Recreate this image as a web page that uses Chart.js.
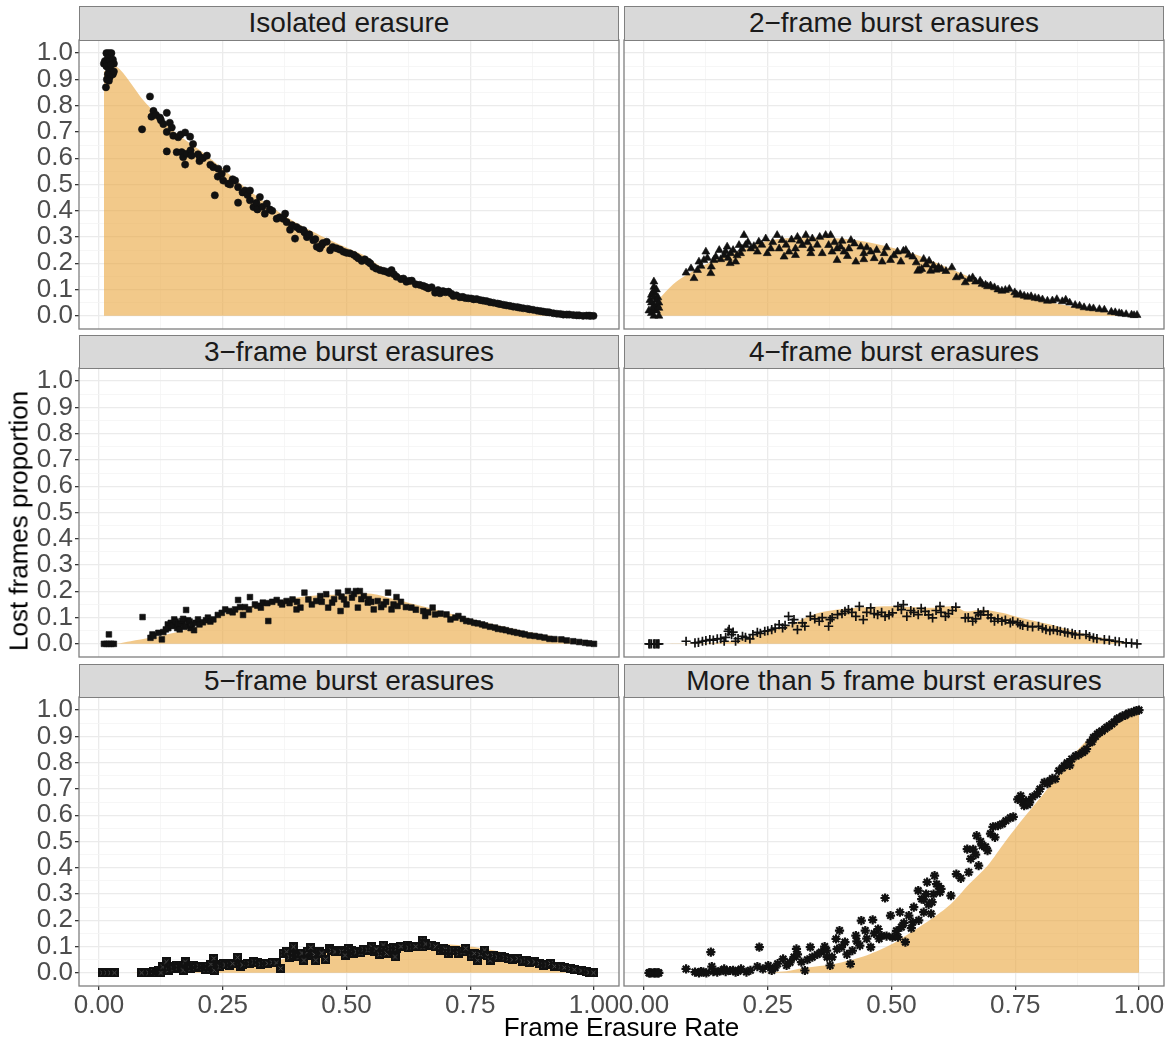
<!DOCTYPE html>
<html>
<head>
<meta charset="utf-8">
<script src="https://cdn.jsdelivr.net/npm/chart.js@4.4.0/dist/chart.umd.min.js"></script>
<style>
  body { margin: 0; background: #fff; font-family: "Liberation Sans", Arial, sans-serif; }
  #wrap { position: relative; width: 1173px; height: 1043px; overflow: hidden; }
  #wrap canvas { position: absolute; left: 0; top: 0; }
  .strip {
    position: absolute; box-sizing: border-box; background: #d9d9d9;
    border: 1.3px solid #7f7f7f; color: #1a1a1a; font-size: 28px;
    text-align: center; z-index: 2; white-space: nowrap;
  }
  .axis-title { position: absolute; color: #000; font-size: 26px; white-space: nowrap; z-index: 2; }
</style>
</head>
<body>
<div id="wrap"></div>
<script>
// ---- data ----
const panelTitles = [
  "Isolated erasure",
  "2\u2212frame burst erasures",
  "3\u2212frame burst erasures",
  "4\u2212frame burst erasures",
  "5\u2212frame burst erasures",
  "More than 5 frame burst erasures"
];

const xBreaks = [0, 0.25, 0.5, 0.75, 1];
const xTickLabels = ["0.00", "0.25", "0.50", "0.75", "1.00"];
const xMinor = [0.125, 0.375, 0.625, 0.875];
const yBreaks = [0, 0.1, 0.2, 0.3, 0.4, 0.5, 0.6, 0.7, 0.8, 0.9, 1.0];
const yTickLabels = ["0.0", "0.1", "0.2", "0.3", "0.4", "0.5", "0.6", "0.7", "0.8", "0.9", "1.0"];
const yMinor = [0.05, 0.15, 0.25, 0.35, 0.45, 0.55, 0.65, 0.75, 0.85, 0.95];

// observed points [x, y]
const isolatedPts = [
  [0.015,1.0],[0.02,1.0],[0.025,1.0],[0.01,0.96],[0.012,0.97],[0.018,0.98],[0.022,0.97],[0.028,0.975],
  [0.03,0.96],[0.015,0.95],[0.02,0.94],[0.025,0.93],[0.018,0.92],[0.022,0.91],[0.028,0.92],[0.016,0.9],
  [0.02,0.895],[0.014,0.87],[0.024,0.955],[0.03,0.93],
  [0.087,0.71],[0.103,0.835],[0.106,0.758],[0.11,0.78],[0.115,0.765],[0.123,0.755],[0.125,0.745],[0.13,0.73],
  [0.137,0.773],[0.137,0.70],[0.137,0.626],[0.143,0.735],[0.147,0.717],[0.15,0.686],[0.157,0.623],[0.16,0.68],
  [0.165,0.69],[0.167,0.623],[0.17,0.604],[0.174,0.698],[0.174,0.576],[0.177,0.617],[0.184,0.682],[0.185,0.63],
  [0.187,0.61],[0.19,0.654],[0.2,0.615],[0.203,0.589],[0.204,0.604],[0.21,0.6],[0.218,0.61],[0.225,0.575],
  [0.231,0.566],[0.234,0.459],[0.24,0.53],[0.241,0.56],[0.248,0.541],[0.251,0.515],[0.258,0.56],[0.261,0.503],
  [0.265,0.5],[0.27,0.52],[0.275,0.515],[0.281,0.49],[0.281,0.431],[0.29,0.47],[0.295,0.477],[0.3,0.46],
  [0.305,0.477],[0.305,0.44],[0.312,0.414],[0.318,0.43],[0.32,0.405],[0.325,0.452],[0.33,0.415],[0.335,0.389],
  [0.339,0.427],[0.345,0.405],[0.35,0.4],[0.359,0.37],[0.365,0.375],[0.372,0.37],[0.376,0.389],[0.379,0.357],
  [0.386,0.328],[0.39,0.345],[0.396,0.294],[0.399,0.338],[0.405,0.33],[0.413,0.326],[0.415,0.318],[0.42,0.30],
  [0.425,0.31],[0.433,0.288],[0.437,0.292],[0.44,0.263],[0.446,0.257],[0.45,0.27],[0.452,0.277],[0.46,0.282],
  [0.467,0.25],[0.472,0.262],[0.48,0.257],[0.487,0.252],[0.494,0.244],[0.5,0.24],[0.507,0.238],[0.515,0.232],
  [0.52,0.225],[0.524,0.219],[0.531,0.209],[0.537,0.215],[0.544,0.206],[0.548,0.2],[0.554,0.187],[0.56,0.18],
  [0.568,0.174],[0.575,0.171],[0.581,0.168],[0.586,0.163],[0.591,0.174],[0.596,0.158],[0.601,0.149],[0.61,0.14],
  [0.615,0.142],[0.621,0.13],[0.626,0.133],[0.632,0.134],[0.64,0.12],[0.648,0.118],[0.655,0.114],[0.66,0.11],
  [0.665,0.105],[0.672,0.109],[0.679,0.088],[0.685,0.098],[0.689,0.086],[0.695,0.094],[0.7,0.09],[0.706,0.092],
  [0.712,0.084],[0.716,0.076],[0.722,0.078],[0.729,0.071],[0.735,0.072],[0.74,0.068],[0.746,0.067],[0.752,0.066],
  [0.757,0.063],[0.763,0.064],[0.77,0.06],[0.776,0.058],[0.783,0.056],[0.79,0.052],[0.797,0.05],[0.805,0.047],
  [0.81,0.045],[0.817,0.042],[0.823,0.04],[0.83,0.038],[0.837,0.035],[0.845,0.033],[0.85,0.031],[0.857,0.029],
  [0.865,0.027],[0.87,0.025],[0.877,0.023],[0.885,0.02],[0.892,0.018],[0.898,0.016],[0.905,0.014],[0.91,0.013],
  [0.918,0.01],[0.925,0.008],[0.932,0.007],[0.938,0.005],[0.945,0.005],[0.95,0.005],[0.958,0.003],[0.965,0.002],
  [0.97,0.002],[0.978,0.0],[0.985,0.001],[0.99,0.001],[0.993,0.0],[0.999,0.0]
];
const twoFramePts = [
  [0.02,0.13],[0.02,0.11],[0.025,0.1],[0.018,0.09],[0.022,0.085],[0.015,0.08],[0.02,0.07],[0.028,0.07],
  [0.025,0.06],[0.012,0.06],[0.015,0.05],[0.02,0.04],[0.027,0.04],[0.03,0.05],[0.02,0.03],[0.017,0.025],
  [0.025,0.02],[0.015,0.01],[0.02,0.0],[0.03,0.0],[0.01,0.02],[0.03,0.03],
  [0.085,0.164],[0.095,0.18],[0.101,0.143],[0.108,0.174],[0.111,0.206],[0.115,0.19],[0.121,0.212],[0.125,0.244],
  [0.128,0.22],[0.135,0.162],[0.136,0.187],[0.141,0.212],[0.145,0.225],[0.152,0.25],[0.155,0.215],[0.162,0.231],
  [0.165,0.245],[0.168,0.263],[0.17,0.22],[0.174,0.2],[0.175,0.238],[0.18,0.25],[0.185,0.206],[0.188,0.23],
  [0.192,0.269],[0.195,0.238],[0.198,0.255],[0.202,0.307],[0.205,0.269],[0.21,0.28],[0.216,0.256],[0.222,0.265],
  [0.229,0.244],[0.232,0.282],[0.238,0.27],[0.246,0.294],[0.249,0.238],[0.256,0.256],[0.26,0.28],[0.269,0.307],
  [0.273,0.256],[0.279,0.288],[0.283,0.225],[0.287,0.27],[0.293,0.244],[0.298,0.29],[0.306,0.256],[0.306,0.231],
  [0.31,0.3],[0.315,0.285],[0.32,0.269],[0.327,0.307],[0.33,0.28],[0.337,0.256],[0.337,0.238],[0.34,0.294],
  [0.35,0.27],[0.355,0.3],[0.36,0.238],[0.367,0.307],[0.373,0.269],[0.377,0.307],[0.38,0.244],[0.385,0.28],
  [0.39,0.256],[0.39,0.212],[0.397,0.263],[0.4,0.285],[0.404,0.244],[0.411,0.227],[0.414,0.256],[0.418,0.288],
  [0.425,0.275],[0.428,0.206],[0.438,0.263],[0.444,0.238],[0.444,0.215],[0.45,0.26],[0.458,0.244],[0.465,0.219],
  [0.47,0.25],[0.481,0.206],[0.485,0.238],[0.49,0.26],[0.498,0.212],[0.505,0.23],[0.512,0.244],[0.519,0.206],
  [0.524,0.247],[0.529,0.25],[0.535,0.232],[0.543,0.225],[0.55,0.203],[0.553,0.171],[0.556,0.174],[0.561,0.178],
  [0.565,0.216],[0.57,0.195],[0.576,0.209],[0.579,0.171],[0.585,0.19],[0.59,0.175],[0.595,0.185],[0.601,0.178],
  [0.61,0.17],[0.622,0.184],[0.631,0.146],[0.64,0.15],[0.649,0.127],[0.657,0.14],[0.664,0.146],[0.67,0.13],
  [0.679,0.133],[0.683,0.121],[0.69,0.118],[0.694,0.112],[0.7,0.115],[0.708,0.108],[0.715,0.1],[0.723,0.095],
  [0.73,0.098],[0.738,0.102],[0.749,0.089],[0.753,0.08],[0.76,0.082],[0.768,0.076],[0.775,0.072],[0.782,0.074],
  [0.79,0.068],[0.797,0.066],[0.805,0.062],[0.815,0.057],[0.825,0.058],[0.834,0.063],[0.845,0.055],[0.852,0.061],
  [0.86,0.05],[0.871,0.041],[0.88,0.038],[0.889,0.032],[0.9,0.03],[0.908,0.028],[0.92,0.025],[0.93,0.023],
  [0.944,0.015],[0.952,0.013],[0.96,0.01],[0.965,0.008],[0.974,0.006],[0.985,0.004],[0.99,0.002],[0.996,0.003]
];
const threeFramePts = [
  [0.01,0],[0.015,0],[0.02,0],[0.025,0],[0.03,0],[0.02,0.036],[0.088,0.102],[0.104,0.023],
  [0.108,0.036],[0.11,0.03],[0.12,0.042],[0.127,0.017],[0.13,0.045],[0.135,0.055],[0.139,0.074],[0.14,0.06],
  [0.145,0.08],[0.147,0.068],[0.15,0.07],[0.152,0.093],[0.155,0.085],[0.158,0.06],[0.16,0.074],[0.163,0.055],
  [0.165,0.078],[0.168,0.087],[0.17,0.095],[0.172,0.065],[0.176,0.129],[0.176,0.068],[0.18,0.09],[0.183,0.085],
  [0.185,0.06],[0.188,0.074],[0.192,0.052],[0.195,0.08],[0.2,0.093],[0.203,0.074],[0.21,0.082],[0.216,0.09],
  [0.22,0.1],[0.225,0.085],[0.231,0.093],[0.24,0.11],[0.248,0.118],[0.255,0.131],[0.263,0.125],[0.27,0.12],
  [0.275,0.131],[0.281,0.167],[0.285,0.14],[0.291,0.11],[0.295,0.14],[0.303,0.131],[0.305,0.178],[0.315,0.15],
  [0.32,0.145],[0.327,0.138],[0.331,0.157],[0.34,0.155],[0.342,0.087],[0.35,0.16],[0.359,0.167],[0.367,0.157],
  [0.37,0.15],[0.379,0.163],[0.385,0.155],[0.391,0.169],[0.399,0.131],[0.4,0.16],[0.407,0.138],[0.415,0.195],
  [0.423,0.169],[0.43,0.15],[0.439,0.163],[0.447,0.182],[0.45,0.16],[0.459,0.189],[0.463,0.138],[0.471,0.157],
  [0.475,0.17],[0.483,0.195],[0.488,0.125],[0.49,0.18],[0.495,0.169],[0.5,0.15],[0.503,0.201],[0.511,0.176],
  [0.515,0.19],[0.519,0.201],[0.523,0.138],[0.527,0.201],[0.53,0.17],[0.535,0.182],[0.543,0.157],[0.545,0.17],
  [0.55,0.16],[0.555,0.131],[0.563,0.163],[0.57,0.14],[0.575,0.15],[0.58,0.16],[0.584,0.195],[0.591,0.131],
  [0.595,0.15],[0.601,0.178],[0.603,0.144],[0.61,0.16],[0.62,0.14],[0.631,0.138],[0.64,0.13],[0.655,0.125],
  [0.659,0.106],[0.665,0.12],[0.674,0.138],[0.679,0.112],[0.69,0.115],[0.702,0.112],[0.71,0.093],[0.72,0.1],
  [0.726,0.106],[0.735,0.095],[0.742,0.087],[0.75,0.085],[0.758,0.08],[0.765,0.078],[0.774,0.074],[0.78,0.07],
  [0.79,0.065],[0.8,0.062],[0.806,0.057],[0.815,0.055],[0.822,0.052],[0.83,0.048],[0.838,0.045],[0.845,0.042],
  [0.854,0.039],[0.86,0.036],[0.87,0.032],[0.88,0.03],[0.89,0.027],[0.9,0.024],[0.91,0.019],[0.92,0.018],
  [0.934,0.017],[0.945,0.013],[0.958,0.01],[0.97,0.007],[0.982,0.004],[0.99,0.002],[1.0,0]
];
const fourFramePts = [
  [0.01,0],[0.012,0],[0.015,0],[0.02,0],[0.022,0],[0.025,0],[0.028,0],[0.03,0],
  [0.085,0.01],[0.103,0.004],[0.11,0.006],[0.118,0.01],[0.125,0.012],[0.133,0.016],[0.14,0.014],[0.148,0.019],
  [0.155,0.02],[0.162,0.01],[0.165,0.025],[0.17,0.048],[0.172,0.055],[0.177,0.035],[0.18,0.045],[0.185,0.01],
  [0.19,0.02],[0.199,0.029],[0.205,0.025],[0.214,0.019],[0.22,0.035],[0.229,0.044],[0.235,0.04],[0.244,0.048],
  [0.25,0.05],[0.258,0.054],[0.265,0.06],[0.273,0.073],[0.28,0.061],[0.285,0.07],[0.292,0.105],[0.3,0.08],
  [0.303,0.092],[0.31,0.054],[0.32,0.08],[0.325,0.067],[0.336,0.105],[0.345,0.095],[0.354,0.086],[0.36,0.1],
  [0.373,0.067],[0.376,0.092],[0.38,0.1],[0.391,0.111],[0.4,0.115],[0.406,0.124],[0.413,0.13],[0.42,0.12],
  [0.428,0.105],[0.435,0.143],[0.443,0.092],[0.45,0.12],[0.458,0.137],[0.465,0.115],[0.472,0.111],[0.48,0.12],
  [0.487,0.105],[0.495,0.11],[0.502,0.118],[0.513,0.143],[0.52,0.13],[0.524,0.149],[0.531,0.105],[0.539,0.127],
  [0.545,0.12],[0.554,0.111],[0.56,0.135],[0.568,0.124],[0.575,0.11],[0.583,0.099],[0.59,0.127],[0.598,0.143],
  [0.6,0.12],[0.609,0.105],[0.615,0.115],[0.623,0.127],[0.63,0.14],[0.649,0.099],[0.655,0.1],[0.664,0.086],
  [0.67,0.095],[0.675,0.118],[0.68,0.11],[0.686,0.124],[0.695,0.11],[0.701,0.099],[0.708,0.086],[0.715,0.095],
  [0.723,0.086],[0.73,0.09],[0.74,0.08],[0.745,0.086],[0.755,0.08],[0.76,0.073],[0.765,0.07],[0.775,0.067],
  [0.785,0.065],[0.797,0.067],[0.805,0.06],[0.812,0.054],[0.82,0.05],[0.827,0.054],[0.835,0.05],[0.841,0.048],
  [0.85,0.045],[0.856,0.042],[0.865,0.04],[0.871,0.035],[0.88,0.035],[0.893,0.035],[0.9,0.028],[0.908,0.023],
  [0.915,0.02],[0.93,0.016],[0.94,0.014],[0.952,0.01],[0.96,0.008],[0.974,0.004],[0.985,0.003],[0.996,0]
];
const fiveFramePts = [
  [0.007,0],[0.015,0],[0.023,0],[0.031,0],[0.086,0],[0.1,0],[0.108,0],[0.11,0.005],[0.116,0],[0.12,0.01],
  [0.125,0],[0.129,0.023],[0.136,0.042],[0.14,0.01],[0.146,0.023],[0.15,0.015],[0.157,0.029],[0.16,0.02],
  [0.167,0.017],[0.17,0.01],[0.174,0.042],[0.181,0.023],[0.185,0.015],[0.191,0.029],[0.195,0.02],[0.202,0.025],
  [0.21,0.02],[0.216,0.013],[0.22,0.025],[0.226,0.033],[0.232,0.055],[0.233,0.01],[0.24,0.03],[0.244,0.023],
  [0.251,0.036],[0.255,0.03],[0.264,0.029],[0.27,0.035],[0.28,0.059],[0.285,0.025],[0.29,0.03],[0.299,0.036],
  [0.305,0.035],[0.313,0.042],[0.32,0.04],[0.327,0.033],[0.335,0.035],[0.341,0.036],[0.35,0.04],[0.358,0.038],
  [0.367,0.017],[0.372,0.074],[0.379,0.08],[0.385,0.06],[0.393,0.099],[0.393,0.067],[0.4,0.07],[0.404,0.061],
  [0.41,0.075],[0.414,0.048],[0.421,0.08],[0.428,0.097],[0.431,0.067],[0.435,0.07],[0.438,0.048],[0.445,0.08],
  [0.45,0.075],[0.458,0.051],[0.466,0.093],[0.47,0.085],[0.477,0.08],[0.487,0.087],[0.49,0.08],[0.497,0.067],
  [0.504,0.093],[0.51,0.085],[0.515,0.074],[0.52,0.08],[0.529,0.076],[0.535,0.09],[0.543,0.087],[0.55,0.099],
  [0.557,0.08],[0.56,0.09],[0.567,0.071],[0.574,0.106],[0.575,0.085],[0.581,0.074],[0.588,0.093],[0.595,0.095],
  [0.598,0.061],[0.602,0.093],[0.61,0.1],[0.623,0.106],[0.625,0.095],[0.633,0.099],[0.64,0.1],[0.654,0.125],
  [0.654,0.099],[0.66,0.11],[0.672,0.106],[0.68,0.1],[0.69,0.085],[0.696,0.093],[0.7,0.09],[0.706,0.074],
  [0.713,0.087],[0.72,0.085],[0.727,0.074],[0.735,0.08],[0.741,0.093],[0.752,0.061],[0.758,0.074],[0.765,0.048],
  [0.77,0.07],[0.779,0.087],[0.785,0.065],[0.79,0.048],[0.797,0.067],[0.805,0.06],[0.814,0.064],[0.82,0.058],
  [0.828,0.055],[0.835,0.05],[0.846,0.055],[0.855,0.045],[0.863,0.048],[0.87,0.04],[0.88,0.042],[0.89,0.035],
  [0.898,0.029],[0.905,0.03],[0.912,0.036],[0.92,0.025],[0.933,0.023],[0.94,0.02],[0.953,0.017],[0.96,0.012],
  [0.974,0.008],[0.985,0.004],[0.99,0.002],[0.999,0]
];
const longBurstPts = [
  [0.01,0],[0.012,0],[0.015,0],[0.02,0],[0.022,0],[0.025,0],[0.028,0],[0.03,0],
  [0.085,0.015],[0.103,0.003],[0.111,0],[0.115,0.005],[0.12,0.003],[0.126,0],[0.135,0.079],[0.137,0.024],
  [0.14,0.005],[0.148,0.003],[0.155,0.008],[0.162,0.015],[0.165,0.005],[0.174,0.009],[0.18,0.01],[0.185,0.003],
  [0.19,0.006],[0.196,0.015],[0.207,0.003],[0.215,0.01],[0.229,0.024],[0.233,0.098],[0.24,0.015],[0.251,0.028],
  [0.258,0.009],[0.265,0.02],[0.27,0.035],[0.281,0.053],[0.288,0.028],[0.295,0.04],[0.303,0.06],[0.308,0.091],
  [0.31,0.07],[0.318,0.041],[0.325,0.009],[0.33,0.05],[0.336,0.098],[0.34,0.06],[0.35,0.07],[0.358,0.079],
  [0.365,0.1],[0.369,0.085],[0.37,0.06],[0.376,0.028],[0.38,0.06],[0.388,0.129],[0.39,0.09],[0.395,0.161],
  [0.399,0.098],[0.406,0.117],[0.41,0.07],[0.417,0.034],[0.421,0.085],[0.428,0.142],[0.43,0.12],[0.436,0.104],
  [0.439,0.199],[0.447,0.161],[0.45,0.13],[0.458,0.098],[0.462,0.202],[0.465,0.15],[0.473,0.167],[0.475,0.13],
  [0.48,0.142],[0.487,0.285],[0.49,0.14],[0.498,0.218],[0.502,0.136],[0.51,0.16],[0.513,0.136],[0.517,0.231],
  [0.52,0.174],[0.525,0.19],[0.528,0.117],[0.535,0.218],[0.54,0.17],[0.543,0.193],[0.545,0.25],[0.554,0.313],
  [0.555,0.2],[0.561,0.281],[0.565,0.231],[0.565,0.28],[0.57,0.3],[0.572,0.345],[0.575,0.26],[0.58,0.225],
  [0.582,0.269],[0.585,0.3],[0.587,0.37],[0.591,0.338],[0.595,0.33],[0.598,0.307],[0.6,0.32],[0.62,0.294],
  [0.631,0.376],[0.64,0.36],[0.653,0.471],[0.656,0.383],[0.66,0.434],[0.665,0.47],[0.67,0.45],[0.672,0.522],
  [0.676,0.408],[0.68,0.5],[0.683,0.484],[0.69,0.48],[0.694,0.465],[0.7,0.53],[0.705,0.556],[0.709,0.516],
  [0.715,0.56],[0.724,0.567],[0.731,0.579],[0.74,0.59],[0.746,0.594],[0.755,0.66],[0.761,0.674],[0.765,0.65],
  [0.768,0.636],[0.772,0.655],[0.775,0.64],[0.779,0.649],[0.785,0.67],[0.794,0.681],[0.8,0.7],[0.809,0.725],
  [0.815,0.72],[0.82,0.731],[0.825,0.74],[0.831,0.738],[0.838,0.769],[0.845,0.78],[0.849,0.788],[0.855,0.8],
  [0.86,0.79],[0.864,0.814],[0.872,0.826],[0.878,0.83],[0.886,0.839],[0.89,0.845],[0.894,0.852],[0.901,0.877],
  [0.905,0.88],[0.908,0.896],[0.912,0.9],[0.916,0.909],[0.92,0.915],[0.925,0.92],[0.931,0.928],[0.935,0.935],
  [0.94,0.94],[0.945,0.947],[0.95,0.955],[0.956,0.966],[0.96,0.97],[0.967,0.978],[0.972,0.98],[0.979,0.989],
  [0.985,0.99],[0.99,0.995],[0.995,0.998],[1.0,1.0]
];

// shaded (expected) profiles [x, y]
const isolatedArea = [
  [0.01,0.93],[0.035,0.95],[0.09,0.82],[0.15,0.705],[0.204,0.63],[0.258,0.547],[0.312,0.465],[0.379,0.376],
  [0.446,0.307],[0.5,0.26],[0.541,0.225],[0.568,0.19],[0.635,0.136],[0.702,0.092],[0.77,0.061],[0.837,0.029],
  [0.904,0.01],[1.0,0.0]
];
const twoFrameArea = [
  [0.03,0.063],[0.059,0.12],[0.089,0.159],[0.133,0.203],[0.192,0.247],[0.251,0.286],[0.325,0.298],[0.413,0.292],
  [0.472,0.273],[0.546,0.235],[0.62,0.178],[0.694,0.121],[0.768,0.076],[0.841,0.044],[0.915,0.019],[1.0,0.0]
];
const threeFrameArea = [
  [0.036,0],[0.064,0.01],[0.104,0.023],[0.152,0.042],[0.2,0.068],[0.248,0.112],[0.295,0.138],[0.343,0.157],
  [0.423,0.182],[0.503,0.189],[0.551,0.191],[0.599,0.169],[0.679,0.131],[0.742,0.099],[0.798,0.074],[0.878,0.042],
  [0.95,0.017],[1.0,0]
];
const fourFrameArea = [
  [0.033,0],[0.133,0.004],[0.192,0.016],[0.229,0.035],[0.295,0.073],[0.354,0.118],[0.428,0.137],[0.502,0.143],
  [0.576,0.137],[0.627,0.143],[0.649,0.124],[0.686,0.13],[0.723,0.118],[0.76,0.099],[0.834,0.067],[0.908,0.029],[1.0,0]
];
const fiveFrameArea = [
  [0.031,0],[0.132,0],[0.237,0.01],[0.292,0.023],[0.348,0.036],[0.376,0.055],[0.445,0.074],[0.515,0.089],
  [0.585,0.099],[0.654,0.112],[0.724,0.106],[0.793,0.087],[0.863,0.055],[0.933,0.025],[1.0,0]
];
const longBurstArea = [
  [0.033,0],[0.133,0],[0.222,0],[0.288,0.006],[0.325,0.019],[0.384,0.034],[0.443,0.062],[0.495,0.104],
  [0.524,0.136],[0.576,0.199],[0.62,0.262],[0.657,0.338],[0.694,0.408],[0.731,0.503],[0.768,0.592],[0.812,0.693],
  [0.857,0.807],[0.901,0.896],[0.945,0.953],[1.0,0.991]
];

// ---- layout ----
const W = 1173, H = 1043;
const colEdges = [[79, 619], [624, 1164]];
const rowEdges = [[40, 329], [368, 657], [697, 986]];
const stripTops = [6, 335, 664];
const Y_AXIS_W = 59, X_AXIS_H = 44;
const FILL = "rgba(233,165,60,0.6)";
const TICK_FONT = { family: "'Liberation Sans', Arial, sans-serif", size: 26 };

// square with a diagonal cross (pch 7)
function boxCross() {
  const c = document.createElement("canvas");
  c.width = 9; c.height = 9;
  const g = c.getContext("2d");
  g.fillStyle = "#111";
  g.fillRect(0, 0, 9, 9);
  g.strokeStyle = "#555";
  g.lineWidth = 0.9;
  g.beginPath();
  g.moveTo(2.5, 2.5); g.lineTo(6.5, 6.5);
  g.moveTo(6.5, 2.5); g.lineTo(2.5, 6.5);
  g.stroke();
  return c;
}

const panels = [
  { pts: isolatedPts, area: isolatedArea, style: "circle", radius: 3.6 },
  { pts: twoFramePts, area: twoFrameArea, style: "triangle", radius: 4.6 },
  { pts: threeFramePts, area: threeFrameArea, style: "rect", radius: 4 },
  { pts: fourFramePts, area: fourFrameArea, style: "cross", radius: 4.6, border: 1.7 },
  { pts: fiveFramePts, area: fiveFrameArea, style: boxCross(), radius: 4.5 },
  { pts: longBurstPts, area: longBurstArea, style: "star", radius: 4.6, border: 2.2 }
];

const near = (v, list) => list.findIndex((b) => Math.abs(b - v) < 1e-6);

const panelBorder = {
  id: "panelBorder",
  afterDraw(chart) {
    const { ctx, chartArea: a } = chart;
    ctx.save();
    ctx.strokeStyle = "#7f7f7f";
    ctx.lineWidth = 1.3;
    ctx.strokeRect(a.left, a.top, a.right - a.left, a.bottom - a.top);
    ctx.restore();
  }
};

const wrap = document.getElementById("wrap");

panels.forEach((p, i) => {
  const col = i % 2, row = Math.floor(i / 2);
  const [l, r] = colEdges[col];
  const [t, b] = rowEdges[row];
  const showY = col === 0, showX = row === 2;

  const strip = document.createElement("div");
  strip.className = "strip";
  strip.style.left = l + "px";
  strip.style.top = stripTops[row] + "px";
  strip.style.width = (r - l) + "px";
  strip.style.height = (t - stripTops[row] + 1) + "px";
  strip.style.lineHeight = (t - stripTops[row] - 2) + "px";
  strip.textContent = panelTitles[i];
  wrap.appendChild(strip);

  const canvas = document.createElement("canvas");
  canvas.width = W;
  canvas.height = H;
  wrap.appendChild(canvas);

  const gridColor = (list) => (ctx) => near(ctx.tick.value, list) >= 0 ? "#ebebeb" : "#f4f4f4";
  const gridWidth = (list) => (ctx) => near(ctx.tick.value, list) >= 0 ? 1.3 : 0.8;
  const tickColor = (list) => (ctx) => near(ctx.tick.value, list) >= 0 ? "#333" : "rgba(0,0,0,0)";

  new Chart(canvas, {
    type: "scatter",
    data: {
      datasets: [
        {
          data: p.pts.map(([x, y]) => ({ x, y })),
          pointStyle: p.style,
          pointRadius: p.radius,
          backgroundColor: "#111",
          borderColor: "#111",
          borderWidth: p.border || 0.6,
          order: 1
        },
        {
          type: "line",
          data: p.area.map(([x, y]) => ({ x, y })),
          fill: "origin",
          backgroundColor: FILL,
          borderWidth: 0,
          pointRadius: 0,
          tension: 0.3,
          order: 2
        }
      ]
    },
    options: {
      responsive: false,
      animation: false,
      devicePixelRatio: 1,
      layout: {
        autoPadding: false,
        padding: {
          left: showY ? l - Y_AXIS_W : l,
          right: W - r,
          top: t,
          bottom: showX ? H - b - X_AXIS_H : H - b
        }
      },
      plugins: { legend: { display: false }, tooltip: { enabled: false } },
      scales: {
        x: {
          type: "linear",
          min: -0.0404,
          max: 1.0505,
          afterBuildTicks: (axis) => {
            axis.ticks = xBreaks.concat(xMinor).sort((a, c) => a - c).map((v) => ({ value: v }));
          },
          afterFit: (axis) => { axis.height = showX ? X_AXIS_H : 0; },
          border: { display: false },
          grid: {
            color: gridColor(xBreaks),
            lineWidth: gridWidth(xBreaks),
            drawTicks: showX,
            tickLength: 4,
            tickColor: tickColor(xBreaks)
          },
          ticks: {
            display: showX,
            autoSkip: false,
            maxRotation: 0,
            padding: 0,
            color: "#4d4d4d",
            font: TICK_FONT,
            callback: (v) => { const k = near(v, xBreaks); return k >= 0 ? xTickLabels[k] : ""; }
          }
        },
        y: {
          type: "linear",
          min: -0.05,
          max: 1.05,
          afterBuildTicks: (axis) => {
            axis.ticks = yBreaks.concat(yMinor).sort((a, c) => a - c).map((v) => ({ value: v }));
          },
          afterFit: (axis) => { axis.width = showY ? Y_AXIS_W : 0; },
          border: { display: false },
          grid: {
            color: gridColor(yBreaks),
            lineWidth: gridWidth(yBreaks),
            drawTicks: showY,
            tickLength: 4,
            tickColor: tickColor(yBreaks)
          },
          ticks: {
            display: showY,
            autoSkip: false,
            padding: 2,
            color: "#4d4d4d",
            font: TICK_FONT,
            callback: (v) => { const k = near(v, yBreaks); return k >= 0 ? yTickLabels[k] : ""; }
          }
        }
      }
    },
    plugins: [panelBorder]
  });
});

// axis titles
const xTitle = document.createElement("div");
xTitle.className = "axis-title";
xTitle.textContent = "Frame Erasure Rate";
xTitle.style.left = "0px";
xTitle.style.width = "1243px";
xTitle.style.textAlign = "center";
xTitle.style.top = "1012px";
wrap.appendChild(xTitle);

const yTitle = document.createElement("div");
yTitle.className = "axis-title";
yTitle.textContent = "Lost frames proportion";
yTitle.style.left = "19px";
yTitle.style.top = "521px";
yTitle.style.transform = "translate(-50%, -50%) rotate(-90deg)";
wrap.appendChild(yTitle);
</script>
</body>
</html>
